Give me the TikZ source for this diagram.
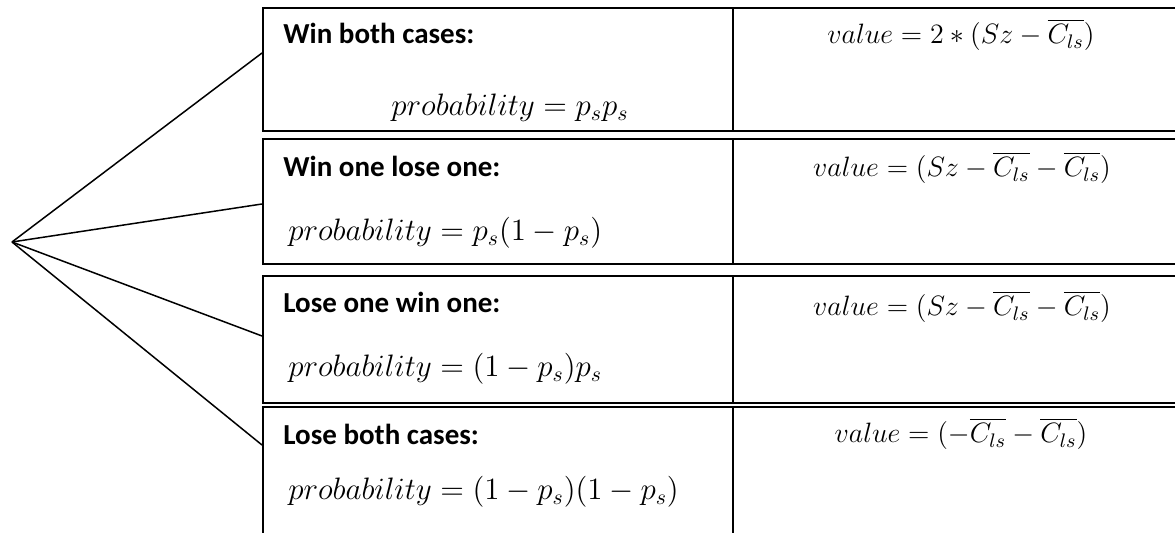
\RequirePackage{fix-cm}
\documentclass[tikz,border=0pt]{standalone}
\usepackage{amsmath}
\usepackage[no-math]{fontspec}
\newfontfamily\headfont{Carlito}
\usetikzlibrary{calc}

\begin{document}
\begin{tikzpicture}[x=0.5pt, y=-0.5pt,
		cell/.style={draw, line width=1pt, rectangle, anchor=north west, inner sep=0pt, minimum width=235pt},
		valcell/.style={cell, minimum width=230pt},
		head/.style={anchor=base west, inner sep=0pt, font=\headfont\bfseries\fontsize{14.5}{17}\selectfont},
		formula/.style={anchor=base west, inner sep=0pt, font=\fontsize{15.5}{18}\selectfont},
		valtext/.style={anchor=base, inner sep=0pt, font=\fontsize{14}{17}\selectfont},
		branch/.style={line width=0.75pt}]
			\useasboundingbox (0,0) rectangle (1175,533);
			\clip (0,0) rectangle (1175,533);
			% left cells
			\node[cell, minimum height=61.5pt] (wb) at (262,7) {};
			\node[cell, minimum height=62.5pt] (wl) at (262,138) {};
			\node[cell, minimum height=63.5pt] (lw) at (262,275) {};
			\node[cell, minimum height=69.5pt] (lb) at (262,406) {};
			% value cells
			\node[valcell, minimum height=61.5pt] (vwb) at (732,7) {};
			\node[valcell, minimum height=62.5pt] (vwl) at (732,138) {};
			\node[valcell, minimum height=63.5pt] (vlw) at (732,275) {};
			\node[valcell, minimum height=69.5pt] (vlb) at (732,406) {};
			% texts
			\node[head] (hwb) at (283,44) {Win both cases:};
			\node[formula, anchor=base] (pwb) at (510,116) {$probability = p_s p_s$};
			\node[head] (hwl) at (283,177) {Win one lose one:};
			\node[formula] (pwl) at (288,241) {$probability = p_s(1-p_s)$};
			\node[head] (hlw) at (283,313) {Lose one win one:};
			\node[formula] (plw) at (288,377) {$probability = (1-p_s)p_s$};
			\node[head] (hlb) at (283,445) {Lose both cases:};
			\node[formula] (plb) at (288,500) {$probability = (1-p_s)(1-p_s)$};
			\node[valtext] (twb) at (961,44) {$value = 2*(Sz-\overline{C_{ls}})$};
			\node[valtext] (twl) at (962,177) {$value = (Sz-\overline{C_{ls}}-\overline{C_{ls}})$};
			\node[valtext] (tlw) at (962,316) {$value = (Sz-\overline{C_{ls}}-\overline{C_{ls}})$};
			\node[valtext] (tlb) at (961,443) {$value = (-\overline{C_{ls}}-\overline{C_{ls}})$};
			% branches
			\coordinate (root) at (12,242);
			\draw[branch] (root) -- ($(wb.north west)+(0,46)$);
			\draw[branch] (root) -- ($(wl.north west)+(0,66)$);
			\draw[branch] (root) -- ($(lw.north west)+(0,61)$);
			\draw[branch] (root) -- ($(lb.north west)+(0,39)$);
		\end{tikzpicture}
\end{document}
